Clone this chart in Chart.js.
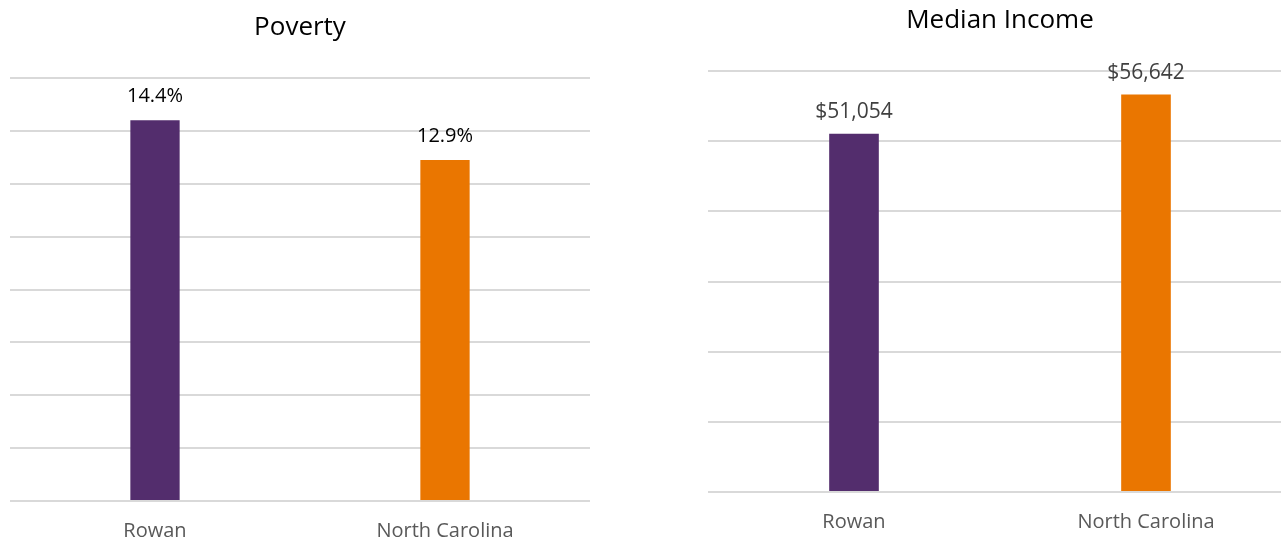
<!DOCTYPE html>
<html>
<head>
<meta charset="utf-8">
<script src="https://cdn.jsdelivr.net/npm/chart.js@4"></script>
<style>
  body { margin: 0; width: 1281px; height: 540px; overflow: hidden; background: #fff; position: relative; }
  canvas { position: absolute; top: 0; }
  #chart_pobreza { left: 0; }
  #chart_renda { left: 640px; }
</style>
</head>
<body>
<canvas id="chart_pobreza" width="640" height="553"></canvas>
<canvas id="chart_renda" width="660" height="544"></canvas>
<script>
// Dados
var lugares = ['Rowan', 'North Carolina'];
var pobreza = [14.4, 12.9];
var renda_mediana = [51054, 56642];
var cores_barras = ['#532d6d', '#ea7600'];

Chart.defaults.font.family = "'Open Sans', sans-serif";

// Plugin simples para escrever o valor acima de cada barra
var rotulosBarras = {
  id: 'rotulosBarras',
  afterDatasetsDraw(chart, args, opts) {
    const ctx = chart.ctx;
    ctx.save();
    ctx.font = opts.size + "px 'Open Sans'";
    ctx.fillStyle = opts.color;
    ctx.textAlign = 'center';
    ctx.textBaseline = 'alphabetic';
    chart.getDatasetMeta(0).data.forEach(function (barra, i) {
      const valor = chart.data.datasets[0].data[i];
      ctx.fillText(opts.format(valor), barra.x, barra.y - opts.offset);
    });
    ctx.restore();
  }
};

function criaGrafico(id, titulo, valores, maximo, passo, padTitulo, padLayout, rotulos) {
  return new Chart(document.getElementById(id), {
    type: 'bar',
    data: {
      labels: lugares,
      datasets: [{
        data: valores,
        backgroundColor: cores_barras,
        categoryPercentage: 1,
        barPercentage: 0.17
      }]
    },
    options: {
      responsive: false,
      animation: false,
      layout: { padding: padLayout },
      plugins: {
        legend: { display: false },
        tooltip: { enabled: false },
        title: {
          display: true,
          text: titulo,
          color: '#000',
          font: { size: 26, weight: 'normal' },
          padding: padTitulo
        },
        rotulosBarras: rotulos
      },
      scales: {
        x: {
          grid: { display: false },
          border: { display: false },
          ticks: { color: '#595959', font: { size: 20 }, padding: 10 }
        },
        y: {
          min: 0,
          max: maximo,
          ticks: { display: false, stepSize: passo },
          border: { display: false },
          grid: { color: '#d9d9d9', lineWidth: 2, drawTicks: false }
        }
      }
    },
    plugins: [rotulosBarras]
  });
}

criaGrafico('chart_pobreza', 'Poverty', pobreza, 16, 2,
  { top: 12, bottom: 34.8 },
  { left: 10, right: 50, top: 0, bottom: 0 },
  { size: 20, color: '#000', offset: 18, format: function (v) { return v.toFixed(1) + '%'; } });

criaGrafico('chart_renda', 'Median Income', renda_mediana, 60000, 10000,
  { top: 5, bottom: 34.8 },
  { left: 68, right: 8, top: 0, bottom: 0 },
  { size: 21, color: '#404040', offset: 16, format: function (v) { return '$' + v.toLocaleString('en-US'); } });
</script>
</body>
</html>
